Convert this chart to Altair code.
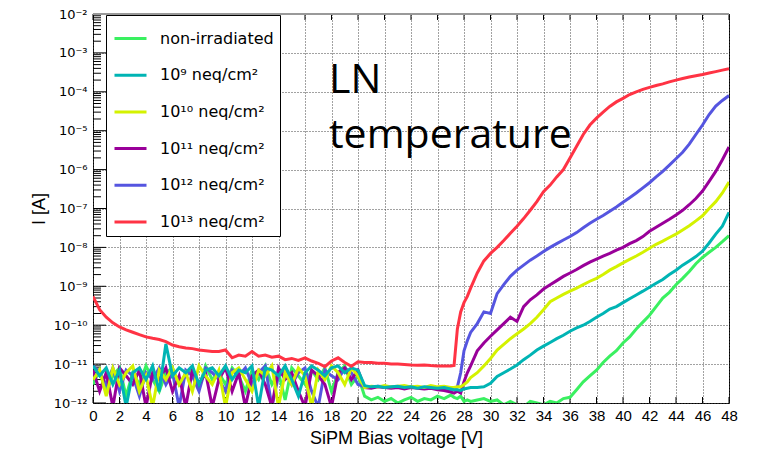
import altair as alt
import pandas as pd

# ---------------- data ----------------
voltage = [0.0, 0.5, 1.0, 1.5, 2.0, 2.5, 3.0, 3.5, 4.0, 4.5, 5.0, 5.5, 6.0, 6.5, 7.0, 7.5, 8.0, 8.5, 9.0, 9.5, 10.0,
           10.5, 11.0, 11.5, 12.0, 12.5, 13.0, 13.5, 14.0, 14.5, 15.0, 15.5, 16.0, 16.5, 17.0, 17.5, 18.0, 18.5, 19.0, 19.5, 20.0,
           20.5, 21.0, 21.5, 22.0, 22.5, 23.0, 23.5, 24.0, 24.5, 25.0, 25.5, 26.0, 26.5, 27.0,
           27.25, 27.5, 27.75, 28.0, 28.25, 28.5,
           29.0, 29.5, 30.0, 30.5, 31.0, 31.5, 32.0, 32.5, 33.0, 33.5, 34.0, 34.5, 35.0, 35.5, 36.0, 36.5, 37.0, 37.5, 38.0, 38.5,
           39.0, 39.5, 40.0, 40.5, 41.0, 41.5, 42.0, 42.5, 43.0, 43.5, 44.0, 44.5, 45.0, 45.5, 46.0, 46.5, 47.0, 47.5, 48.0]

i_non_irradiated = [3e-12, 7e-12, 2e-12, 5e-12, 8e-12, 1.5e-12, 6e-12, 3e-12, 9e-12, 4e-12, 2e-12, 6e-12, 8e-12, 3e-12, 5e-12,
                    7e-12, 2.5e-12, 9e-12, 4e-12, 6e-12, 3e-12, 8e-12, 5e-12, 2e-12, 7e-12, 4e-12, 9e-12, 3e-12, 6e-12, 1.2e-12,
                    8e-12, 5e-12, 3e-12, 7e-12, 4e-12, 8e-12, 2e-12, 6e-12, 9e-12, 3e-12, 5e-12,
                    1.5e-12, 1.2e-12, 1.4e-12, 1.1e-12, 1.3e-12, 1.0e-12, 1.2e-12, 1.4e-12, 1.1e-12, 1.3e-12, 1.2e-12, 1.5e-12, 1.3e-12, 1.6e-12,
                    1.4e-12, 1.3e-12, 1.5e-12, 1.1e-12, 1.2e-12, 1.1e-12,
                    1.2e-12, 1.3e-12, 1.1e-12, 1.2e-12, 0.9e-12, 1.1e-12, 0.9e-12, 0.8e-12, 1.1e-12, 1.0e-12,
                    0.9e-12, 1.1e-12, 1.0e-12, 1.3e-12, 1.4e-12, 2.2e-12, 3.5e-12, 5e-12, 7e-12, 1.1e-11,
                    1.6e-11, 2.2e-11, 3.5e-11, 5e-11, 8e-11, 1.2e-10, 1.8e-10, 3e-10, 5e-10, 7e-10,
                    1.1e-9, 1.6e-9, 2.4e-9, 3.8e-9, 5.5e-9, 7.5e-9, 1.0e-8, 1.4e-8, 2e-8]

i_1e9 = [9e-12, 5e-12, 8e-12, 3e-12, 7e-12, 0.8e-12, 6e-12, 8e-12, 4e-12, 9e-12, 2e-12, 3.3e-11, 5e-12, 8e-12, 6e-12,
         9e-12, 3e-12, 7e-12, 8e-12, 5e-12, 9e-12, 4e-12, 7e-12, 6e-12, 9e-12, 0.8e-12, 8e-12, 7e-12, 5e-12, 9e-12,
         4e-12, 1.5e-12, 6e-12, 9e-12, 7e-12, 5e-12, 8e-12, 9e-12, 6e-12, 8e-12, 7e-12,
         2.8e-12, 2.6e-12, 2.7e-12, 2.5e-12, 2.6e-12, 2.7e-12, 2.5e-12, 2.6e-12, 2.4e-12, 2.6e-12, 2.5e-12, 2.4e-12, 2.5e-12, 2.3e-12,
         2.2e-12, 2.2e-12, 2.1e-12, 2.3e-12, 2.4e-12, 2.5e-12,
         2.5e-12, 2.6e-12, 3.2e-12, 4.8e-12, 6e-12, 7.5e-12, 9.5e-12, 1.3e-11, 1.7e-11, 2.3e-11,
         2.9e-11, 3.6e-11, 4.5e-11, 5.5e-11, 7e-11, 8.5e-11, 1.0e-10, 1.25e-10, 1.6e-10, 2e-10,
         2.6e-10, 3.0e-10, 3.8e-10, 4.8e-10, 6e-10, 7.5e-10, 9.5e-10, 1.2e-9, 1.5e-9, 2e-9,
         2.6e-9, 3.5e-9, 4.5e-9, 5.8e-9, 8e-9, 1.3e-8, 2.2e-8, 3.5e-8, 8e-8]

i_1e10 = [4e-12, 7e-12, 1.5e-12, 8e-12, 3e-12, 6e-12, 9e-12, 2e-12, 5e-12, 0.8e-12, 7e-12, 4e-12, 8e-12, 3e-12, 6e-12,
          2e-12, 9e-12, 5e-12, 3e-12, 7e-12, 0.8e-12, 6e-12, 8e-12, 4e-12, 2e-12, 7e-12, 5e-12, 9e-12, 0.8e-12, 6e-12,
          3e-12, 8e-12, 5e-12, 0.8e-12, 7e-12, 4e-12, 9e-12, 6e-12, 3e-12, 8e-12, 5e-12,
          2.5e-12, 2.7e-12, 2.6e-12, 2.8e-12, 2.6e-12, 2.7e-12, 2.8e-12, 2.6e-12, 2.7e-12, 2.5e-12, 2.8e-12, 2.6e-12, 2.7e-12, 2.5e-12,
          2.5e-12, 2.6e-12, 2.6e-12, 3e-12, 3.5e-12, 4.5e-12,
          6e-12, 9e-12, 1.4e-11, 2.3e-11, 3.2e-11, 4.5e-11, 6e-11, 8e-11, 1.1e-10, 1.6e-10,
          2.5e-10, 4e-10, 5e-10, 6.2e-10, 7.5e-10, 9e-10, 1.1e-9, 1.35e-9, 1.6e-9, 2e-9,
          2.6e-9, 3.2e-9, 4e-9, 4.9e-9, 6e-9, 7.5e-9, 9.5e-9, 1.2e-8, 1.45e-8, 1.8e-8,
          2.2e-8, 2.8e-8, 3.6e-8, 4.8e-8, 6.5e-8, 1.0e-7, 1.5e-7, 2.5e-7, 4.8e-7]

i_1e11 = [7e-12, 2e-12, 6e-12, 0.8e-12, 8e-12, 5e-12, 3e-12, 7e-12, 0.8e-12, 6e-12, 4e-12, 8e-12, 2e-12, 5e-12, 0.8e-12,
          7e-12, 3e-12, 6e-12, 0.8e-12, 4e-12, 8e-12, 2e-12, 6e-12, 0.8e-12, 5e-12, 7e-12, 3e-12, 0.8e-12, 8e-12, 4e-12,
          6e-12, 2e-12, 0.8e-12, 7e-12, 5e-12, 3e-12, 0.8e-12, 6e-12, 8e-12, 4e-12, 7e-12,
          2.5e-12, 2.4e-12, 2.6e-12, 2.5e-12, 2.4e-12, 2.5e-12, 2.3e-12, 2.5e-12, 2.4e-12, 2.3e-12, 2.4e-12, 2.2e-12, 2.1e-12, 1.9e-12,
          1.8e-12, 2.0e-12, 1.8e-12, 3.5e-12, 6e-12, 9e-12,
          2.2e-11, 3.5e-11, 5.2e-11, 7.6e-11, 1.1e-10, 1.6e-10, 1.25e-10, 3e-10, 4.5e-10, 6e-10,
          8.5e-10, 1.1e-9, 1.4e-9, 1.8e-9, 2.2e-9, 2.7e-9, 3.4e-9, 4.2e-9, 5e-9, 6e-9,
          7e-9, 8.5e-9, 1.0e-8, 1.25e-8, 1.5e-8, 1.9e-8, 2.6e-8, 3.3e-8, 4.2e-8, 5.3e-8,
          6.8e-8, 9e-8, 1.25e-7, 1.8e-7, 2.8e-7, 5e-7, 9e-7, 1.8e-6, 3.8e-6]

i_1e12 = [9e-12, 6e-12, 3e-12, 8e-12, 2e-12, 7e-12, 5e-12, 1.5e-12, 6e-12, 4e-12, 8e-12, 3e-12, 6e-12, 0.8e-12, 7e-12,
          5e-12, 2e-12, 8e-12, 6e-12, 4e-12, 2e-12, 7e-12, 5e-12, 8e-12, 3e-12, 6e-12, 9e-12, 0.8e-12, 5e-12, 7e-12,
          3e-12, 6e-12, 8e-12, 2e-12, 0.8e-12, 7e-12, 5e-12, 4e-12, 8e-12, 6e-12, 3e-12,
          2.6e-12, 2.5e-12, 2.7e-12, 2.6e-12, 2.5e-12, 2.6e-12, 2.4e-12, 2.6e-12, 2.5e-12, 2.4e-12, 2.5e-12, 2.4e-12, 2.3e-12, 2.2e-12,
          2.4e-12, 2.6e-12, 6e-12, 2.2e-11, 4e-11, 6.5e-11,
          1.1e-10, 2.2e-10, 2.0e-10, 6.5e-10, 1.1e-9, 1.8e-9, 2.6e-9, 3.5e-9, 4.7e-9, 6e-9,
          7.8e-9, 1.0e-8, 1.25e-8, 1.55e-8, 1.9e-8, 2.4e-8, 3.2e-8, 4.2e-8, 5.3e-8, 6.6e-8,
          8.5e-8, 1.1e-7, 1.45e-7, 1.9e-7, 2.5e-7, 3.4e-7, 4.6e-7, 6.5e-7, 9e-7, 1.3e-6,
          1.9e-6, 2.8e-6, 4.5e-6, 8e-6, 1.4e-5, 2.6e-5, 4.3e-5, 6e-5, 8e-5]

i_1e13 = [5.5e-10, 2.5e-10, 1.6e-10, 1.15e-10, 9e-11, 7.6e-11, 6.6e-11, 5.7e-11, 5.0e-11, 4.6e-11, 4.3e-11, 3.8e-11, 3.1e-11, 2.8e-11, 2.6e-11,
          2.5e-11, 2.3e-11, 2.2e-11, 2.1e-11, 2.1e-11, 2.3e-11,
          1.45e-11, 1.7e-11, 1.6e-11, 2.1e-11, 1.6e-11, 1.7e-11, 1.5e-11, 1.6e-11, 1.3e-11, 1.4e-11,
          1.25e-11, 1.45e-11, 1.2e-11, 1.05e-11, 8.6e-12, 1.2e-11, 1.45e-11, 1.1e-11, 8.8e-12, 1.15e-11,
          1.1e-11, 1.1e-11, 1.05e-11, 1.05e-11, 1.0e-11, 1.0e-11, 9.8e-12, 9.5e-12, 9.3e-12, 9.5e-12, 9.2e-12, 9.0e-12, 9.0e-12, 9.0e-12,
          9.2e-12, 8e-11, 2.2e-10, 3.8e-10, 5.5e-10, 9e-10,
          2.2e-9, 4.5e-9, 7e-9, 1.0e-8, 1.5e-8, 2.3e-8, 3.5e-8, 5.5e-8, 9e-8, 1.5e-7,
          2.7e-7, 4e-7, 6.5e-7, 1.0e-6, 2e-6, 4e-6, 8e-6, 1.4e-5, 2.1e-5, 3e-5,
          4.2e-5, 5.5e-5, 6.8e-5, 8.5e-5, 1.0e-4, 1.15e-4, 1.3e-4, 1.45e-4, 1.6e-4, 1.8e-4,
          2.0e-4, 2.2e-4, 2.4e-4, 2.6e-4, 2.8e-4, 3.05e-4, 3.3e-4, 3.6e-4, 3.9e-4]

series_names = ["non-irradiated", "10⁹ neq/cm²", "10¹⁰ neq/cm²", "10¹¹ neq/cm²", "10¹² neq/cm²", "10¹³ neq/cm²"]
series_values = [i_non_irradiated, i_1e9, i_1e10, i_1e11, i_1e12, i_1e13]
series_colors = ["#3af060", "#00b4b4", "#d4f200", "#990099", "#5555e0", "#ff3344"]
draw_order = [0, 4, 3, 2, 1, 5]

x_ticks = [0, 2, 4, 6, 8, 10, 12, 14, 16, 18, 20, 22, 24, 26, 28, 30, 32, 34, 36, 38, 40, 42, 44, 46, 48]
y_decades = [1e-12, 1e-11, 1e-10, 1e-9, 1e-8, 1e-7, 1e-6, 1e-5, 1e-4, 1e-3, 1e-2]
y_tick_labels = ["10⁻¹²", "10⁻¹¹", "10⁻¹⁰", "10⁻⁹", "10⁻⁸", "10⁻⁷", "10⁻⁶", "10⁻⁵", "10⁻⁴", "10⁻³", "10⁻²"]
y_exponents = [-12, -11, -10, -9, -8, -7, -6, -5, -4, -3, -2]
minor_multipliers = [2, 3, 4, 5, 6, 7, 8, 9]

annotation_text = "LN\ntemperature"
x_title = "SiPM Bias voltage [V]"
y_title = "I [A]"

# ---------------- tables ----------------
rows = []
for k in draw_order:
    vals = series_values[k]
    assert len(vals) == len(voltage), (k, len(vals))
    for v, c in zip(voltage, vals):
        rows.append({"voltage": v, "current": c, "series": series_names[k]})
df = pd.DataFrame(rows)

minor_ticks = [m * d for d in y_decades[:-1] for m in minor_multipliers]
df_minor = pd.DataFrame({"current": minor_ticks})
df_major = pd.DataFrame({"current": y_decades})
df_xt = pd.DataFrame({"voltage": x_ticks})

W, H = 636, 389
FONT = "Liberation Sans"
SUPFONT = "DejaVu Sans"

label_expr = " : ".join(
    f"round(log(datum.value)/LN10) == {e} ? '{lab}'" for e, lab in zip(y_exponents, y_tick_labels)
) + " : ''"

x_scale = alt.Scale(domain=[0, 48], nice=False, zero=False)
y_scale = alt.Scale(type="log", domain=[1e-12, 1e-2], nice=False)

x_axis = alt.Axis(values=x_ticks, format="d", title=x_title, grid=True, gridColor="#444", gridDash=[1, 2],
                  gridWidth=1, ticks=False, tickSize=0, domain=False, labelFont=FONT, labelFontSize=15,
                  labelColor="black", labelPadding=5, labelFlush=False, labelOverlap=False, labelBound=False,
                  titleFont=FONT, titleFontSize=18, titleFontWeight="normal",
                  titleColor="black", titleX=303, titleY=40, titleBaseline="alphabetic")
y_axis = alt.Axis(values=y_decades, labelExpr=label_expr, title=y_title, grid=True, gridColor="#444",
                  gridDash=[1, 2], gridWidth=1, ticks=False, tickSize=0, domain=False, labelFont=SUPFONT,
                  labelFontSize=13, labelColor="black", labelPadding=6, labelFlush=False, labelOverlap=False,
                  labelBound=False, titleFont=FONT, titleFontSize=18,
                  titleFontWeight="normal", titleColor="black", titleX=-49, titleBaseline="alphabetic")

legend = alt.Legend(orient="none", legendX=13, legendY=1, direction="vertical", title=None,
                    symbolType="stroke", symbolSize=1024, symbolStrokeWidth=3, symbolOffset=1,
                    labelFont=SUPFONT, labelFontSize=16, labelColor="black", labelOffset=12, labelLimit=300,
                    rowPadding=10.7, padding=6, strokeColor="black", fillColor="white")

color = alt.Color("series:N", scale=alt.Scale(domain=series_names, range=series_colors), legend=legend)

layers = []
for k in draw_order:
    layers.append(
        alt.Chart(df).transform_filter(alt.datum.series == series_names[k])
        .mark_line(clip=True, strokeWidth=3)
        .encode(x=alt.X("voltage:Q", scale=x_scale, axis=x_axis),
                y=alt.Y("current:Q", scale=y_scale, axis=y_axis),
                color=color)
    )

minor_rules = alt.Chart(df_minor).mark_rule(color="black", strokeWidth=1).encode(
    y=alt.Y("current:Q", scale=y_scale, axis=y_axis), x=alt.value(0), x2=alt.value(8))
major_rules = alt.Chart(df_major).mark_rule(color="black", strokeWidth=1).encode(
    y=alt.Y("current:Q", scale=y_scale, axis=y_axis), x=alt.value(0), x2=alt.value(13))
bottom_ticks = alt.Chart(df_xt).mark_rule(color="black", strokeWidth=1).encode(
    x=alt.X("voltage:Q", scale=x_scale, axis=x_axis), y=alt.value(H), y2=alt.value(H - 6))
top_ticks = alt.Chart(df_xt).mark_rule(color="black", strokeWidth=1).encode(
    x=alt.X("voltage:Q", scale=x_scale, axis=x_axis), y=alt.value(0), y2=alt.value(6))
top_frame = alt.Chart(pd.DataFrame({"k": [0]})).mark_rule(color="#999", strokeWidth=2).encode(
    x=alt.value(0), x2=alt.value(W), y=alt.value(0))

annotation = alt.Chart(pd.DataFrame({"t": [annotation_text]})).mark_text(
    align="left", baseline="alphabetic", font="Open Sans", fontSize=41, lineBreak="\n", lineHeight=55,
    color="black").encode(text="t:N", x=alt.value(236), y=alt.value(79))

chart = alt.layer(minor_rules, major_rules, bottom_ticks, top_ticks, *layers, annotation, top_frame).properties(
    width=W, height=H,
    autosize=alt.AutoSizeParams(type="none"),
    padding={"left": 93, "top": 14, "right": 30, "bottom": 47},
    background="white",
).configure_view(stroke="black", strokeWidth=1)

chart.save("out.html", embed_options={"renderer": "svg", "actions": False})
